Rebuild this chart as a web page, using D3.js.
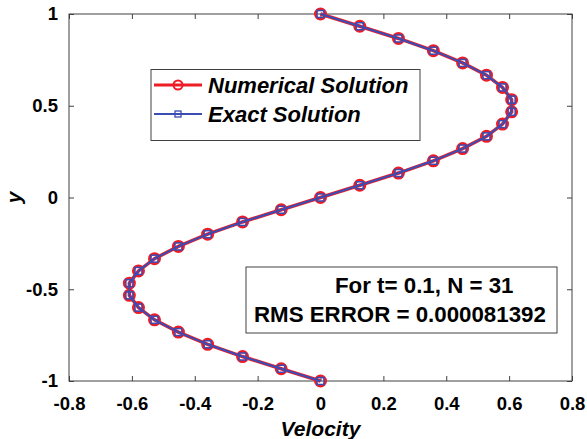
<!DOCTYPE html>
<html><head><meta charset="utf-8">
<script src="https://cdn.jsdelivr.net/npm/d3@7"></script>
<style>body{margin:0;background:#fff}svg{display:block}text{font-family:"Liberation Sans",Arial,sans-serif;font-weight:bold;fill:#000}</style>
</head><body><svg id="c" width="587" height="439"></svg>
<script>
const yValues = [-1,-0.9333,-0.8667,-0.8,-0.7333,-0.6667,-0.6,-0.5333,-0.4667,-0.4,-0.3333,-0.2667,-0.2,-0.1333,-0.0667,0,0.0667,0.1333,0.2,0.2667,0.3333,0.4,0.4667,0.5333,0.6,0.6667,0.7333,0.8,0.8667,0.9333,1];
const numericalVel = [0,-0.125,-0.248,-0.359,-0.452,-0.528,-0.579,-0.608,-0.608,-0.579,-0.528,-0.452,-0.359,-0.248,-0.125,0,0.125,0.248,0.359,0.452,0.528,0.579,0.608,0.608,0.579,0.528,0.452,0.359,0.248,0.125,0];
const exactVel = [0,-0.125,-0.248,-0.359,-0.452,-0.528,-0.579,-0.608,-0.608,-0.579,-0.528,-0.452,-0.359,-0.248,-0.125,0,0.125,0.248,0.359,0.452,0.528,0.579,0.608,0.608,0.579,0.528,0.452,0.359,0.248,0.125,0];
const xTicks = [-0.8,-0.6,-0.4,-0.2,0,0.2,0.4,0.6,0.8];
const yTicks = [-1,-0.5,0,0.5,1];
const seriesNames = ["Numerical Solution","Exact Solution"];
const annotLines = ["For t= 0.1, N = 31","RMS ERROR = 0.000081392"];

const RED = "#ee1c24", BLUE = "#3b4cb4", AX = "#404040";
const L = 69, R = 572, T = 14, B = 381;
const svg = d3.select("#c");
const x = d3.scaleLinear().domain([-0.8,0.8]).range([L,R]);
const y = d3.scaleLinear().domain([-1,1]).range([B,T]);

const fmt = v => String(v);
const gx = svg.append("g").attr("transform",`translate(0,${B})`)
  .call(d3.axisBottom(x).tickValues(xTicks).tickSize(-5).tickPadding(16).tickFormat(fmt));
const gxt = svg.append("g").attr("transform",`translate(0,${T})`)
  .call(d3.axisTop(x).tickValues(xTicks).tickSize(-5).tickFormat(""));
const gy = svg.append("g").attr("transform",`translate(${L},0)`)
  .call(d3.axisLeft(y).tickValues(yTicks).tickSize(-5).tickPadding(11).tickFormat(fmt));
const gyr = svg.append("g").attr("transform",`translate(${R},0)`)
  .call(d3.axisRight(y).tickValues(yTicks).tickSize(-5).tickFormat(""));
[gx,gxt,gy,gyr].forEach(g=>{g.select(".domain").remove();g.selectAll("line").attr("stroke",AX);});
[gx,gy].forEach(g=>g.selectAll("text").attr("font-size",18.5).attr("font-family",'"Liberation Sans",Arial,sans-serif').attr("font-weight","bold").attr("fill","#000"));
svg.append("rect").attr("x",L).attr("y",T).attr("width",R-L).attr("height",B-T)
  .attr("fill","none").attr("stroke",AX).attr("stroke-width",1);

// labels
svg.append("text").attr("x",(L+R)/2).attr("y",436).attr("text-anchor","middle")
  .attr("font-size",21).attr("font-style","italic").text("Velocity");
svg.append("text").attr("transform",`translate(21,${(T+B)/2}) rotate(-90)`).attr("text-anchor","middle")
  .attr("font-size",21).attr("font-style","italic").text("y");

// series
const line = d3.line();
const numPts = yValues.map((v,i)=>[x(numericalVel[i]), y(v)]);
const exPts = yValues.map((v,i)=>[x(exactVel[i]), y(v)]);
svg.append("path").attr("d",line(numPts)).attr("fill","none").attr("stroke",RED).attr("stroke-width",3.5);
svg.selectAll("circle.num").data(numPts).join("circle").attr("class","num")
  .attr("cx",d=>d[0]).attr("cy",d=>d[1]).attr("r",5).attr("fill","none").attr("stroke",RED).attr("stroke-width",3);
svg.append("path").attr("d",line(exPts)).attr("fill","none").attr("stroke",BLUE).attr("stroke-width",2);
svg.selectAll("rect.ex").data(exPts).join("rect").attr("class","ex")
  .attr("x",d=>d[0]-3.5).attr("y",d=>d[1]-3.5).attr("width",7).attr("height",7)
  .attr("fill","none").attr("stroke",BLUE).attr("stroke-width",1.5);

// legend
const lg = svg.append("g");
lg.append("rect").attr("x",151).attr("y",69.5).attr("width",269).attr("height",71)
  .attr("fill","#fff").attr("stroke",AX).attr("stroke-width",1);
const rows = [{c:RED,w:3,name:seriesNames[0],yy:85,m:"c"},{c:BLUE,w:2,name:seriesNames[1],yy:114,m:"s"}];
rows.forEach(r=>{
  lg.append("line").attr("x1",154).attr("x2",202).attr("y1",r.yy).attr("y2",r.yy).attr("stroke",r.c).attr("stroke-width",r.w);
  if(r.m==="c") lg.append("circle").attr("cx",178).attr("cy",r.yy).attr("r",4.5).attr("fill","none").attr("stroke",r.c).attr("stroke-width",2);
  else lg.append("rect").attr("x",175).attr("y",r.yy-3).attr("width",6).attr("height",6).attr("fill","none").attr("stroke",r.c).attr("stroke-width",1.3);
  lg.append("text").attr("x",208).attr("y",r.yy+7.5).attr("font-size",22).attr("font-style","italic").text(r.name);
});

// annotation box
const ab = svg.append("g");
ab.append("rect").attr("x",246).attr("y",267).attr("width",311).attr("height",66)
  .attr("fill","#fff").attr("stroke",AX).attr("stroke-width",1);
ab.append("text").attr("x",335).attr("y",293).attr("font-size",22.3).text(annotLines[0]);
ab.append("text").attr("x",254).attr("y",322).attr("font-size",22.3).text(annotLines[1]);
</script></body></html>
